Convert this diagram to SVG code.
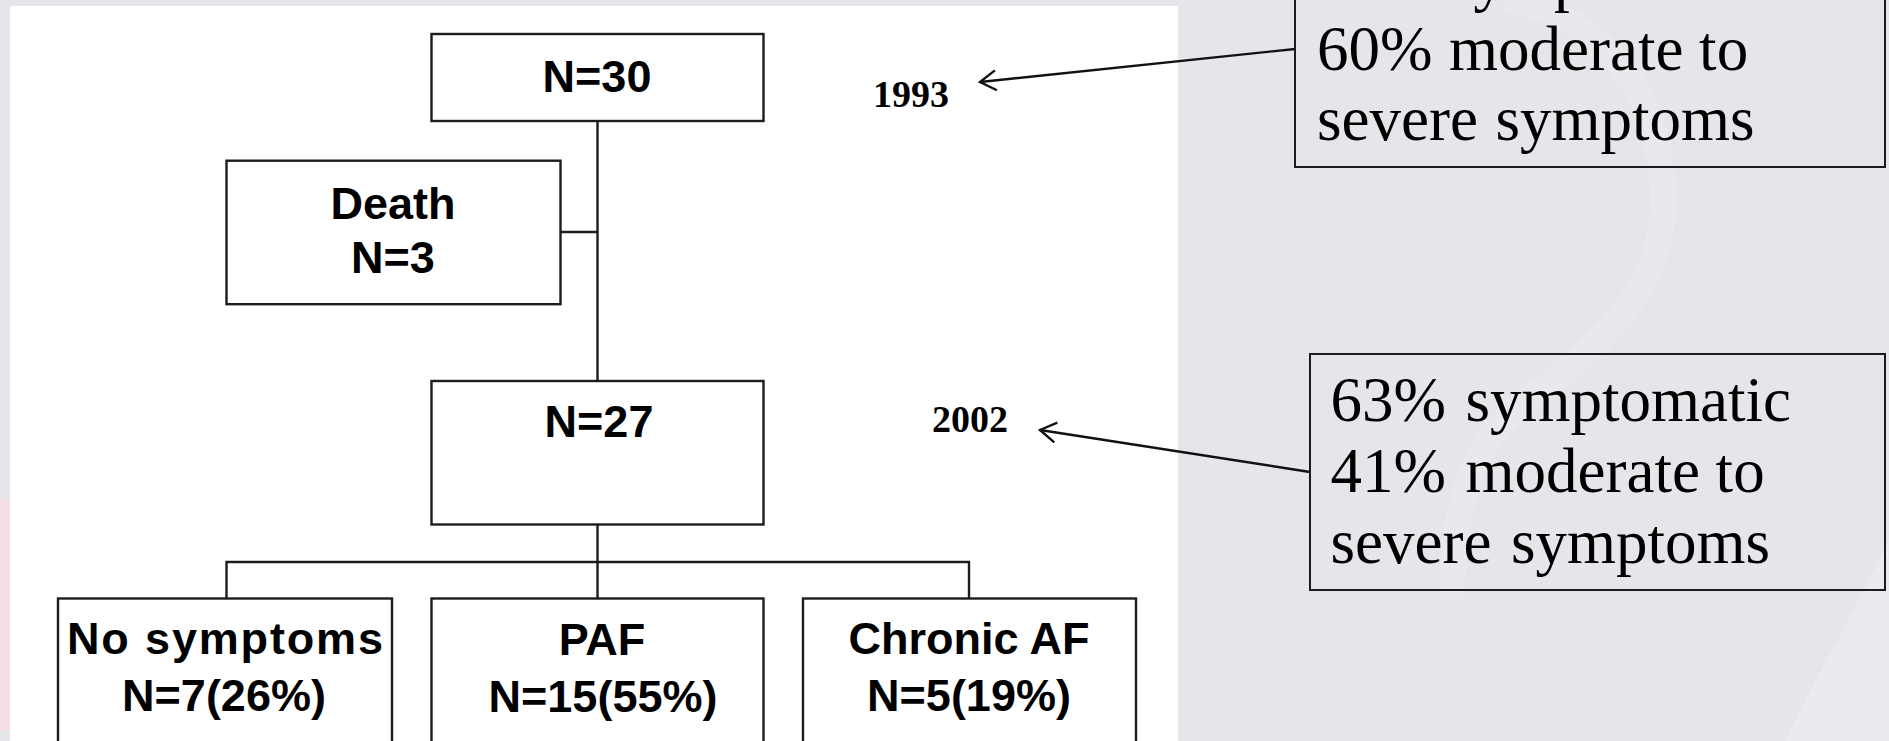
<svg xmlns="http://www.w3.org/2000/svg" width="1889" height="741" viewBox="0 0 1889 741">
<style>
.box{fill:#ffffff;stroke:#1c1c1c;stroke-width:2.4}
.cbox{fill:none;stroke:#1c1c1c;stroke-width:2}
.ln{fill:none;stroke:#1c1c1c;stroke-width:2.4}
.arr{fill:none;stroke:#111;stroke-width:2.4}
.t{font-family:"Liberation Sans",Arial,sans-serif;font-weight:bold;font-size:45px;fill:#000;text-anchor:middle}
.yr{font-family:"Liberation Serif","Times New Roman",serif;font-weight:bold;font-size:38px;fill:#000}
.c{font-family:"Liberation Serif","Times New Roman",serif;font-size:63px;fill:#000}
</style>
<defs>
<marker id="open" markerUnits="userSpaceOnUse" markerWidth="26" markerHeight="26" refX="21" refY="12" orient="auto" viewBox="0 0 26 26">
<path d="M5,2 L21,12 L5,22" fill="none" stroke="#111" stroke-width="2.4"/>
</marker>
</defs>
<rect width="1889" height="741" fill="#e4e4e9"/>
<path d="M1178,0 L1889,0 L1889,741 L1178,741 Z" fill="#e5e5ea"/>
<path d="M1505,0 C1610,15 1672,110 1662,220 C1652,310 1580,360 1515,410 C1470,450 1452,510 1452,600" fill="none" stroke="#eeeef2" stroke-width="26" opacity="0.45"/>
<path d="M1889,540 L1889,741 L1785,741 C1820,670 1860,600 1889,540 Z" fill="#ebebef"/>
<rect x="0" y="500" width="10" height="230" fill="#f6dfe4"/>
<rect x="10" y="6" width="1168" height="760" fill="#ffffff"/>

<g id="connectors">
<line class="ln" x1="597.5" y1="121" x2="597.5" y2="381"/>
<line class="ln" x1="560.5" y1="232" x2="597.5" y2="232"/>
<line class="ln" x1="597.5" y1="524.5" x2="597.5" y2="598.5"/>
<polyline class="ln" points="226.5,598.5 226.5,562 969,562 969,598.5"/>
<line class="arr" x1="1295" y1="49" x2="980" y2="82" marker-end="url(#open)"/>
<line class="arr" x1="1310" y1="472" x2="1040" y2="430" marker-end="url(#open)"/>
</g>

<g id="n30">
<rect class="box" x="431.5" y="34" width="332" height="87"/>
<text class="t" x="597" y="92">N=30</text>
</g>
<g id="death">
<rect class="box" x="226.5" y="160.7" width="334" height="143.5"/>
<text class="t" x="393" y="219">Death</text>
<text class="t" x="393" y="273">N=3</text>
</g>
<g id="n27">
<rect class="box" x="431.5" y="381" width="332" height="143.5"/>
<text class="t" x="599" y="437">N=27</text>
</g>
<g id="nosym">
<rect class="box" x="58" y="598.5" width="334" height="200"/>
<text class="t" x="225" y="654" textLength="316" lengthAdjust="spacing">No symptoms</text>
<text class="t" x="224" y="711">N=7(26%)</text>
</g>
<g id="paf">
<rect class="box" x="431.5" y="598.5" width="332" height="200"/>
<text class="t" x="602" y="655">PAF</text>
<text class="t" x="603" y="711.5">N=15(55%)</text>
</g>
<g id="chronic">
<rect class="box" x="803" y="598.5" width="333" height="200"/>
<text class="t" x="969" y="654">Chronic AF</text>
<text class="t" x="969" y="711">N=5(19%)</text>
</g>

<g id="y1993">
<text class="yr" x="873" y="107">1993</text>
</g>
<g id="y2002">
<text class="yr" x="932" y="431.5">2002</text>
</g>

<g id="note1993">
<rect class="cbox" x="1295" y="-10" width="590" height="177"/>
<text class="c" x="1449" y="-1">symptomatic</text>
<text class="c" y="70"><tspan x="1317">60%</tspan><tspan x="1449">moderate to</tspan></text>
<text class="c" y="139.5"><tspan x="1317">severe</tspan><tspan x="1495.5">symptoms</tspan></text>
</g>
<g id="note2002">
<rect class="cbox" x="1310" y="354" width="575" height="236"/>
<text class="c" y="420.5"><tspan x="1330.5">63%</tspan><tspan x="1465.5">symptomatic</tspan></text>
<text class="c" y="492"><tspan x="1330.5">41%</tspan><tspan x="1465.5">moderate to</tspan></text>
<text class="c" y="563"><tspan x="1330.5">severe</tspan><tspan x="1511">symptoms</tspan></text>
</g>
</svg>
